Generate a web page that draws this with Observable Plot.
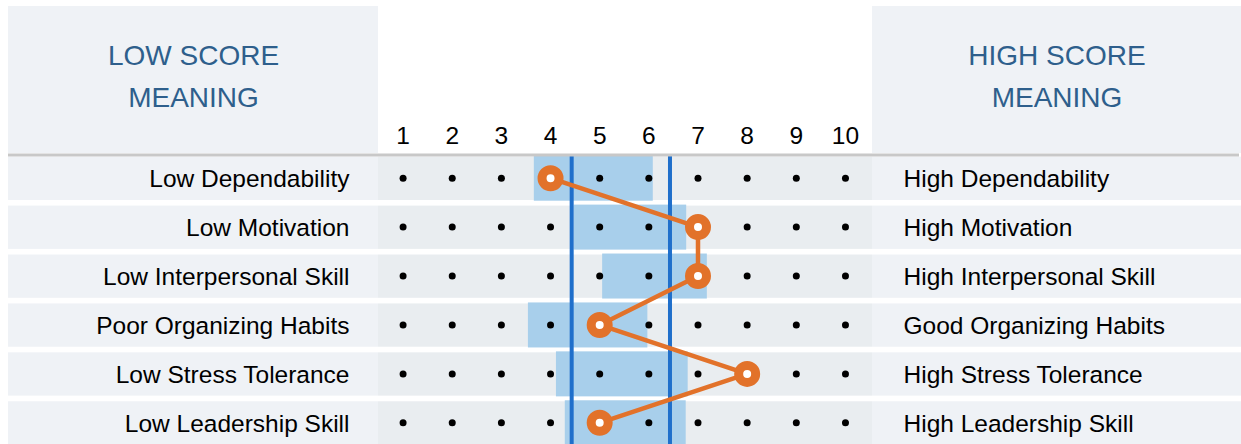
<!DOCTYPE html>
<html>
<head>
<meta charset="utf-8">
<script src="https://cdn.jsdelivr.net/npm/d3@7"></script>
<script src="https://cdn.jsdelivr.net/npm/@observablehq/plot@0.6"></script>
<style>
  html, body { margin: 0; padding: 0; background: #fff; }
  #chart svg { display: block; }
</style>
</head>
<body>
<div id="chart"></div>
<script>
// ---- data ----
const lowLabels = ["Low Dependability", "Low Motivation", "Low Interpersonal Skill", "Poor Organizing Habits", "Low Stress Tolerance", "Low Leadership Skill"];
const highLabels = ["High Dependability", "High Motivation", "High Interpersonal Skill", "Good Organizing Habits", "High Stress Tolerance", "High Leadership Skill"];
const scores = [4, 7, 7, 5, 8, 5];
const rangeLow = [3.67, 4.48, 5.06, 3.55, 4.12, 4.30];
const rangeHigh = [6.09, 6.77, 7.19, 5.98, 6.80, 6.76];
const normBand = [4.43, 6.43];
const scaleTicks = [1, 2, 3, 4, 5, 6, 7, 8, 9, 10];
const headers = ["LOW SCORE\nMEANING", "HIGH SCORE\nMEANING"];

// ---- layout helpers (pixel -> scale units, for background panels only) ----
const X = p => 0.5 + (p - 378) * 10.05 / 494;
const Y = p => (p - 177.7) / 48.92;

const idx = d3.range(lowLabels.length);
const grid = idx.flatMap(i => scaleTicks.map(t => ({row: i, score: t})));

const ORANGE = "#E2722A";
const FONT = "'Liberation Sans', Arial, Helvetica, sans-serif";

const chart = Plot.plot({
  width: 1241,
  height: 444,
  margin: 0,
  style: {fontFamily: FONT, background: "#fff", color: "#000"},
  x: {domain: [0.5, 10.55], range: [378, 872], axis: null},
  y: {domain: [0, 5], range: [177.7, 422.3], axis: null},
  marks: [
    // header panels
    Plot.rect([0, 1], {
      x1: d => d === 0 ? X(8) : X(872),
      x2: d => d === 0 ? X(378) : X(1245),
      y1: () => Y(6), y2: () => Y(153),
      fill: "#EFF2F6"
    }),
    // row backgrounds: label panels
    Plot.rect(idx, {x1: () => X(8), x2: () => X(378), y1: i => i - 0.43, y2: i => i + 0.455, fill: "#EFF2F6"}),
    Plot.rect(idx, {x1: () => X(872), x2: () => X(1245), y1: i => i - 0.43, y2: i => i + 0.455, fill: "#EFF2F6"}),
    // row backgrounds: scale area
    Plot.rect(idx, {x1: () => X(378), x2: () => X(872), y1: i => i - 0.43, y2: i => i + 0.455, fill: "#E9EDF0"}),
    // score ranges
    Plot.rect(idx, {x1: i => rangeLow[i], x2: i => rangeHigh[i], y1: i => i - 0.45, y2: i => i + 0.47, fill: "#A8CFEB"}),
    // norm lines
    Plot.ruleX(normBand, {y1: () => Y(155.5), y2: () => 5.6, stroke: "#1F6FCB", strokeWidth: 4}),
    // separator
    Plot.ruleY([Y(154.5)], {x1: () => X(8), x2: () => X(1239), stroke: "#C8C8C8", strokeWidth: 3}),
    // scale dots
    Plot.dot(grid, {x: "score", y: "row", r: 3.5, fill: "#000", stroke: null}),
    // profile line
    Plot.line(idx, {x: i => scores[i], y: i => i, stroke: ORANGE, strokeWidth: 4.5}),
    Plot.dot(idx, {x: i => scores[i], y: i => i, r: 8.5, fill: "#fff", stroke: ORANGE, strokeWidth: 9}),
    // tick labels
    Plot.text(scaleTicks, {x: d => d, y: () => Y(143), text: d => String(d), fontSize: 24.5, lineAnchor: "bottom", fill: "#000"}),
    // row labels
    Plot.text(idx, {x: () => X(349), y: i => i, text: i => lowLabels[i], textAnchor: "end", fontSize: 24.5, lineAnchor: "middle", dy: 1, fill: "#000"}),
    Plot.text(idx, {x: () => X(903), y: i => i, text: i => highLabels[i], textAnchor: "start", fontSize: 24.5, lineAnchor: "middle", dy: 1, fill: "#000"}),
    // headers
    Plot.text([0, 1], {x: d => d === 0 ? X(193) : X(1056.5), y: () => Y(72.5), text: d => headers[d], fontSize: 28, lineHeight: 1.5, lineAnchor: "middle", fill: "#2E5F8C"})
  ]
});
document.getElementById("chart").appendChild(chart);
</script>
</body>
</html>
